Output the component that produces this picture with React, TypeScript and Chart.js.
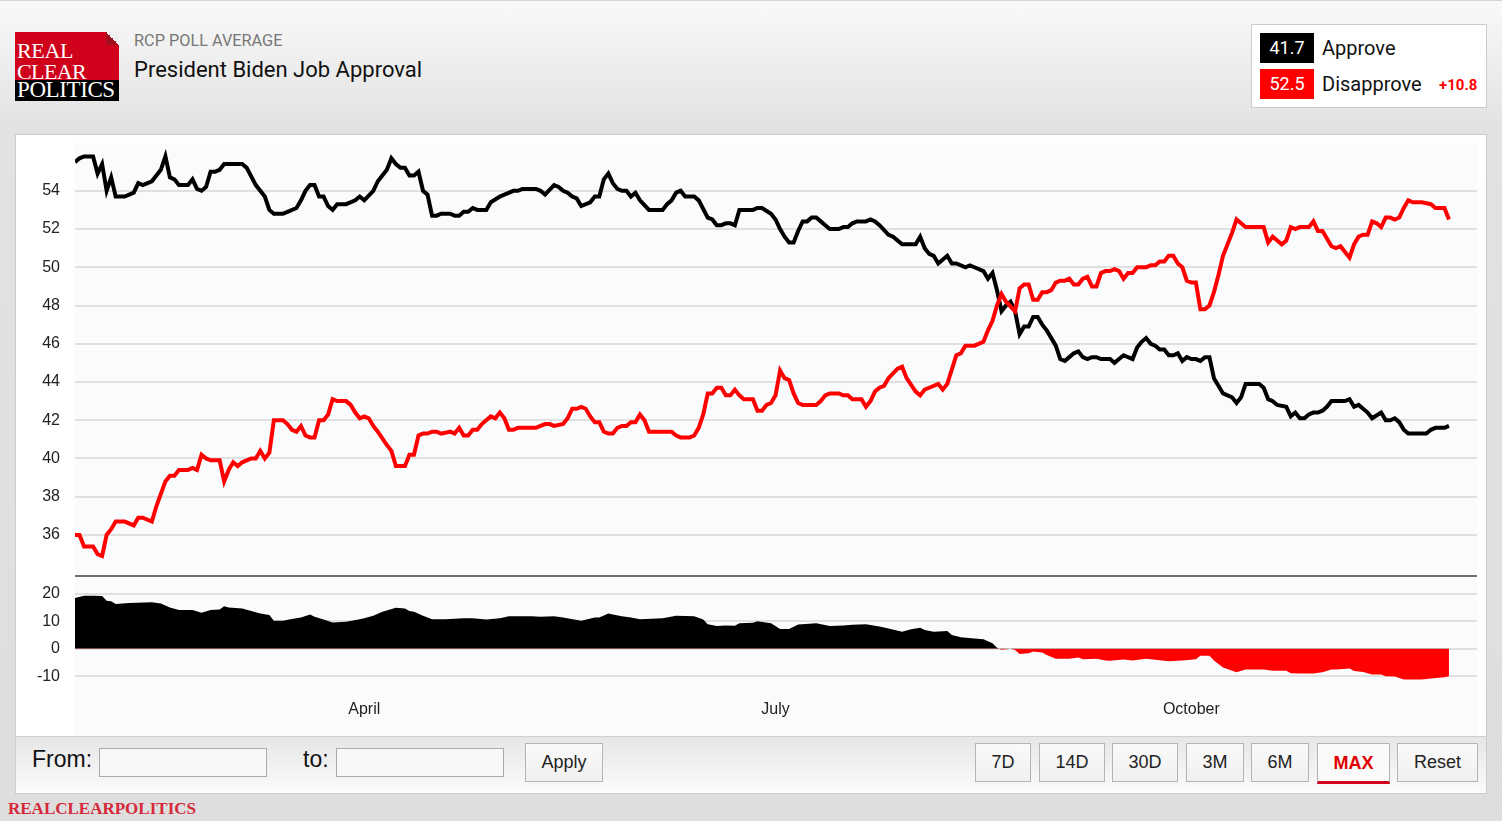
import { useEffect, useRef } from 'react';
import { Chart, registerables } from 'chart.js';

Chart.register(...registerables);

// [day of 2021 (Jan 1 = 0), value]
const APPROVE: [number, number][] = [
  [26, 55.5], [27, 55.7], [28, 55.8], [30, 55.8], [31, 54.9], [32, 55.4], [33, 54.0], [34, 54.7], [35, 53.7], [37, 53.7],
  [39, 53.9], [40, 54.4], [41, 54.3], [43, 54.5], [45, 55.1], [46, 55.8], [47, 54.7], [48, 54.6], [49, 54.3], [51, 54.3],
  [52, 54.6], [53, 54.1], [54, 54.0], [55, 54.2], [56, 55.0], [57, 55.0], [58, 55.1], [59, 55.4], [63, 55.4], [64, 55.2],
  [66, 54.3], [68, 53.7], [69, 53.0], [70, 52.8], [72, 52.8], [73, 52.9], [75, 53.1], [76, 53.5], [77, 54.0], [78, 54.3],
  [79, 54.3], [80, 53.7], [81, 53.7], [82, 53.2], [83, 53.0], [84, 53.3], [86, 53.3], [88, 53.5], [89, 53.7], [90, 53.5],
  [92, 54.0], [93, 54.5], [95, 55.1], [96, 55.7], [97, 55.4], [98, 55.2], [99, 55.2], [100, 54.8], [101, 54.8], [102, 55.0],
  [103, 54.0], [104, 53.8], [105, 52.7], [106, 52.7], [107, 52.8], [109, 52.8], [110, 52.7], [111, 52.7], [112, 52.9], [113, 52.9],
  [114, 53.1], [115, 53.0], [116, 53.0], [117, 53.0], [118, 53.4], [120, 53.7], [121, 53.8], [123, 54.0], [124, 54.0], [125, 54.1],
  [128, 54.1], [129, 54.0], [130, 53.8], [132, 54.3], [133, 54.2], [134, 54.0], [135, 53.9], [136, 53.7], [137, 53.6], [138, 53.2],
  [140, 53.4], [141, 53.7], [142, 53.7], [143, 54.6], [144, 54.9], [145, 54.4], [146, 54.1], [147, 54.0], [148, 54.0], [149, 53.7],
  [150, 53.9], [151, 53.5], [153, 53.0], [156, 53.0], [157, 53.3], [158, 53.5], [159, 53.9], [160, 54.0], [161, 53.7], [163, 53.7],
  [164, 53.5], [166, 52.6], [167, 52.5], [168, 52.2], [169, 52.2], [170, 52.3], [171, 52.3], [172, 52.2], [173, 53.0], [176, 53.0],
  [177, 53.1], [178, 53.1], [180, 52.8], [181, 52.5], [182, 52.0], [183, 51.6], [184, 51.3], [185, 51.3], [186, 51.9], [187, 52.4],
  [188, 52.4], [189, 52.6], [190, 52.6], [191, 52.4], [192, 52.2], [193, 52.0], [195, 52.0], [196, 52.1], [197, 52.1], [198, 52.3],
  [199, 52.4], [201, 52.4], [202, 52.5], [203, 52.4], [204, 52.2], [206, 51.7], [207, 51.6], [209, 51.2], [212, 51.2], [213, 51.6],
  [214, 51.0], [215, 50.7], [216, 50.6], [217, 50.2], [219, 50.6], [220, 50.2], [221, 50.2], [223, 50.0], [224, 50.1], [225, 50.0],
  [227, 49.8], [228, 49.4], [229, 49.7], [230, 48.8], [231, 47.7], [232, 48.0], [233, 48.2], [234, 47.7], [235, 46.5], [236, 46.9],
  [237, 46.9], [238, 47.4], [239, 47.4], [240, 47.0], [241, 46.7], [243, 45.9], [244, 45.2], [245, 45.1], [246, 45.3], [247, 45.5],
  [248, 45.6], [249, 45.3], [250, 45.2], [251, 45.3], [252, 45.3], [253, 45.2], [255, 45.2], [256, 45.0], [257, 45.2], [258, 45.4],
  [260, 45.2], [261, 45.8], [262, 46.1], [263, 46.3], [264, 46.0], [265, 45.9], [266, 45.7], [267, 45.7], [268, 45.4], [269, 45.4],
  [270, 45.5], [271, 45.1], [272, 45.3], [273, 45.2], [274, 45.2], [275, 45.1], [276, 45.3], [277, 45.3], [278, 44.2], [280, 43.4],
  [281, 43.3], [282, 43.2], [283, 42.9], [284, 43.2], [285, 43.9], [288, 43.9], [289, 43.7], [290, 43.1], [291, 43.0], [292, 42.8],
  [294, 42.7], [295, 42.2], [296, 42.4], [297, 42.1], [298, 42.1], [299, 42.3], [300, 42.4], [301, 42.4], [302, 42.5], [303, 42.7],
  [304, 43.0], [307, 43.0], [308, 43.1], [309, 42.7], [310, 42.8], [311, 42.6], [312, 42.4], [313, 42.1], [315, 42.4], [316, 42.0],
  [317, 42.0], [318, 42.1], [319, 41.9], [320, 41.5], [321, 41.3], [325, 41.3], [326, 41.5], [327, 41.6], [329, 41.6], [330, 41.7],
];

const DISAPPROVE: [number, number][] = [
  [26, 36.0], [27, 36.0], [28, 35.4], [30, 35.4], [31, 35.0], [32, 34.9], [33, 36.0], [34, 36.3], [35, 36.7], [37, 36.7],
  [39, 36.5], [40, 36.9], [41, 36.9], [43, 36.7], [44, 37.5], [46, 38.8], [47, 39.1], [48, 39.1], [49, 39.4], [51, 39.4],
  [52, 39.5], [53, 39.4], [54, 40.2], [55, 40.0], [56, 39.9], [58, 39.9], [59, 38.8], [60, 39.4], [61, 39.8], [62, 39.6],
  [63, 39.8], [65, 40.0], [66, 40.0], [67, 40.4], [68, 40.0], [69, 40.3], [70, 42.0], [72, 42.0], [73, 41.8], [74, 41.5],
  [75, 41.4], [76, 41.7], [77, 41.2], [78, 41.1], [79, 41.1], [80, 42.0], [81, 42.0], [82, 42.3], [83, 43.1], [84, 43.0],
  [86, 43.0], [87, 42.8], [88, 42.4], [89, 42.1], [90, 42.2], [91, 42.1], [92, 41.7], [93, 41.4], [95, 40.7], [96, 40.4],
  [97, 39.6], [99, 39.6], [100, 40.2], [101, 40.2], [102, 41.2], [103, 41.3], [104, 41.3], [105, 41.4], [106, 41.4], [107, 41.3],
  [109, 41.4], [110, 41.3], [111, 41.6], [112, 41.2], [113, 41.2], [114, 41.5], [115, 41.5], [116, 41.8], [118, 42.2], [119, 42.1],
  [120, 42.4], [121, 42.1], [122, 41.5], [123, 41.5], [124, 41.6], [128, 41.6], [129, 41.7], [130, 41.8], [131, 41.8], [132, 41.7],
  [134, 41.8], [135, 42.1], [136, 42.6], [137, 42.6], [138, 42.7], [139, 42.6], [140, 42.2], [141, 41.9], [142, 41.9], [143, 41.4],
  [144, 41.3], [145, 41.3], [146, 41.6], [147, 41.7], [148, 41.7], [149, 41.9], [150, 41.9], [151, 42.3], [152, 42.0], [153, 41.4],
  [158, 41.4], [159, 41.2], [160, 41.1], [162, 41.1], [163, 41.2], [164, 41.6], [165, 42.3], [166, 43.4], [167, 43.4], [168, 43.7],
  [169, 43.7], [170, 43.3], [171, 43.3], [172, 43.6], [173, 43.3], [174, 43.1], [176, 43.1], [177, 42.5], [178, 42.5], [179, 42.8],
  [180, 42.9], [181, 43.3], [182, 44.6], [183, 44.2], [184, 44.1], [185, 43.4], [186, 42.9], [187, 42.8], [190, 42.8], [191, 43.0],
  [192, 43.3], [193, 43.4], [195, 43.4], [196, 43.3], [197, 43.3], [198, 43.1], [200, 43.1], [201, 42.7], [202, 43.0], [203, 43.5],
  [204, 43.7], [205, 43.8], [206, 44.2], [208, 44.7], [209, 44.8], [210, 44.2], [212, 43.5], [213, 43.3], [214, 43.6], [215, 43.7],
  [217, 43.9], [218, 43.6], [219, 43.9], [221, 45.4], [222, 45.5], [223, 45.9], [225, 45.9], [227, 46.1], [228, 46.7], [229, 47.2],
  [230, 48.0], [231, 48.6], [232, 48.2], [234, 47.7], [235, 48.9], [236, 49.1], [237, 49.1], [238, 48.3], [239, 48.3], [240, 48.7],
  [241, 48.7], [242, 48.8], [243, 49.2], [244, 49.3], [245, 49.3], [246, 49.4], [247, 49.1], [248, 49.1], [249, 49.4], [250, 49.5],
  [251, 49.0], [252, 49.0], [253, 49.7], [254, 49.8], [255, 49.8], [256, 49.9], [257, 49.8], [258, 49.4], [259, 49.7], [260, 49.7],
  [261, 50.0], [263, 50.0], [264, 50.1], [265, 50.1], [266, 50.3], [267, 50.3], [268, 50.6], [269, 50.6], [270, 50.2], [271, 50.0],
  [272, 49.3], [273, 49.2], [274, 49.2], [275, 47.8], [276, 47.8], [277, 48.0], [278, 48.7], [279, 49.6], [280, 50.6], [282, 51.8],
  [283, 52.5], [284, 52.3], [285, 52.1], [289, 52.1], [290, 51.3], [291, 51.6], [292, 51.4], [293, 51.2], [294, 51.4], [295, 52.1],
  [296, 52.0], [297, 52.1], [299, 52.1], [300, 52.4], [301, 51.9], [302, 51.9], [303, 51.5], [304, 51.1], [305, 51.0], [306, 51.1],
  [307, 50.8], [308, 50.5], [309, 51.2], [310, 51.6], [311, 51.7], [312, 51.7], [313, 52.4], [314, 52.3], [315, 52.1], [316, 52.6],
  [317, 52.6], [318, 52.5], [319, 52.6], [320, 53.1], [321, 53.5], [322, 53.4], [324, 53.4], [326, 53.3], [327, 53.1], [329, 53.1],
  [330, 52.5],
];

// approve minus disapprove
const SPREAD: [number, number][] = [
  [26, 18.4], [28, 19.2], [30, 19.2], [32, 19.1], [33, 17.4], [34, 17.2], [35, 16.2], [38, 16.6], [43, 16.8], [45, 16.4],
  [47, 14.9], [49, 14.0], [52, 14.0], [54, 13.0], [56, 14.0], [58, 14.2], [59, 15.4], [60, 14.9], [63, 14.6], [65, 13.7],
  [67, 12.8], [69, 12.2], [70, 10.1], [72, 10.1], [74, 10.8], [76, 11.3], [78, 12.4], [79, 11.6], [81, 10.6], [83, 9.5],
  [86, 9.8], [89, 10.7], [90, 11.0], [92, 11.9], [94, 13.4], [97, 14.8], [99, 14.6], [100, 13.7], [101, 13.4], [103, 11.9],
  [105, 10.7], [108, 10.7], [112, 11.0], [114, 11.0], [117, 10.6], [120, 11.0], [122, 11.8], [127, 11.8], [129, 11.6], [132, 11.8],
  [134, 11.3], [138, 10.1], [141, 11.3], [142, 11.3], [144, 12.8], [145, 12.4], [147, 11.8], [149, 11.3], [151, 10.7], [156, 11.0],
  [159, 11.9], [163, 11.8], [165, 10.6], [166, 8.9], [168, 8.2], [170, 8.4], [172, 8.3], [173, 9.2], [176, 9.4], [177, 9.9],
  [180, 9.2], [182, 7.1], [184, 7.1], [186, 8.8], [190, 9.2], [193, 8.2], [196, 8.4], [198, 8.7], [201, 8.9], [204, 8.0],
  [206, 7.3], [209, 6.1], [211, 7.0], [213, 7.6], [214, 6.8], [216, 6.1], [219, 6.4], [220, 5.0], [222, 4.1], [225, 3.7],
  [227, 3.4], [229, 2.0], [230, 0.3], [231, -0.4], [233, 0.0], [234, -0.5], [235, -1.9], [237, -1.7], [238, -1.0], [240, -1.4],
  [241, -2.3], [243, -3.7], [246, -3.7], [248, -3.2], [249, -3.8], [252, -3.7], [254, -4.3], [255, -4.4], [258, -3.9], [260, -4.3],
  [263, -3.7], [265, -4.0], [268, -4.6], [271, -4.3], [274, -3.8], [275, -2.6], [277, -2.6], [278, -4.3], [280, -6.8], [283, -8.6],
  [285, -7.6], [289, -7.6], [291, -8.0], [294, -8.0], [295, -8.9], [297, -9.0], [300, -9.0], [302, -8.6], [304, -7.6], [305, -7.6],
  [308, -7.2], [309, -8.1], [311, -8.5], [313, -9.4], [315, -9.4], [316, -10.0], [318, -10.1], [320, -11.2], [324, -11.2], [326, -10.8],
  [329, -10.4], [330, -10.0],
];

const MONTH_DAYS = [90, 181, 273];
const MONTH_LABELS = ['April', 'July', 'October'];
const MAIN_TICKS = [36, 38, 40, 42, 44, 46, 48, 50, 52, 54];
const SPREAD_TICKS = [20, 10, 0, -10];

const LATEST_APPROVE = '41.7';
const LATEST_DISAPPROVE = '52.5';
const LATEST_SPREAD = '+10.8';

const RANGE_BUTTONS = [
  { label: '7D', left: 959, width: 56 },
  { label: '14D', left: 1023, width: 66 },
  { label: '30D', left: 1096, width: 66 },
  { label: '3M', left: 1170, width: 58 },
  { label: '6M', left: 1235, width: 58 },
  { label: 'MAX', left: 1301, width: 73 },
  { label: 'Reset', left: 1381, width: 81 },
];

const SANS = 'Arial, "Liberation Sans", sans-serif';
const ROBOTO = 'Roboto, "Noto Sans", sans-serif';
const SERIF = '"Liberation Serif", "Times New Roman", serif';

const plotDecor = {
  id: 'plotDecor',
  beforeDraw(chart: any) {
    const { ctx, chartArea } = chart;
    ctx.save();
    ctx.fillStyle = '#fafbfd';
    ctx.fillRect(chartArea.left, chartArea.top, chartArea.right - chartArea.left, chart.height - chartArea.top);
    ctx.restore();
  },
  beforeDatasetsDraw(chart: any) {
    const { ctx, chartArea } = chart;
    const y = chart.scales.y.bottom;
    ctx.save();
    ctx.strokeStyle = '#6e6e6e';
    ctx.lineWidth = 2;
    ctx.beginPath();
    ctx.moveTo(chartArea.left, y - 1);
    ctx.lineTo(chartArea.right, y - 1);
    ctx.stroke();
    ctx.restore();
  },
};

function ApprovalChart() {
  const canvasRef = useRef<HTMLCanvasElement>(null);

  useEffect(() => {
    if (!canvasRef.current) return;
    const toPoints = (rows: [number, number][]) => rows.map(([x, y]) => ({ x, y }));
    const axisFont = { family: SANS, size: 16 };
    const fixLeftAxis = (s: any) => {
      s.width = 59;
      s.paddingTop = 0;
      s.paddingBottom = 0;
    };

    const chart = new Chart(canvasRef.current, {
      type: 'line',
      data: {
        datasets: [
          {
            label: 'Spread',
            data: toPoints(SPREAD),
            yAxisID: 'ySpread',
            borderWidth: 0,
            borderColor: 'rgba(0,0,0,0)',
            backgroundColor: '#000',
            fill: { target: 'origin', above: '#000000', below: '#ff0000' },
            pointRadius: 0,
            tension: 0,
            order: 2,
          },
          {
            label: 'Approve',
            data: toPoints(APPROVE),
            yAxisID: 'y',
            borderColor: '#000000',
            borderWidth: 4,
            pointRadius: 0,
            tension: 0,
            fill: false,
            order: 1,
          },
          {
            label: 'Disapprove',
            data: toPoints(DISAPPROVE),
            yAxisID: 'y',
            borderColor: '#ff0000',
            borderWidth: 4,
            pointRadius: 0,
            tension: 0,
            fill: false,
            order: 0,
          },
        ],
      },
      options: {
        animation: false,
        responsive: true,
        maintainAspectRatio: false,
        layout: { padding: { top: 8, right: 9, bottom: 0, left: 0 } },
        plugins: {
          legend: { display: false },
          tooltip: { enabled: false },
        },
        scales: {
          x: {
            type: 'linear',
            min: 26,
            max: 336.2,
            grid: { display: false, drawTicks: false },
            border: { display: false },
            afterBuildTicks: (s: any) => {
              s.ticks = MONTH_DAYS.map((v) => ({ value: v }));
            },
            afterFit: (s: any) => {
              s.height = 46;
              s.paddingLeft = 0;
              s.paddingRight = 0;
            },
            ticks: {
              autoSkip: false,
              maxRotation: 0,
              padding: 10,
              color: '#222',
              font: axisFont,
              callback: (v: any) => MONTH_LABELS[MONTH_DAYS.indexOf(Number(v))] ?? '',
            },
          },
          y: {
            type: 'linear',
            position: 'left',
            stack: 'panels',
            stackWeight: 434,
            weight: 2,
            min: 33.8,
            max: 56.5,
            grid: { color: '#e0e0e0', lineWidth: 2, drawTicks: false },
            border: { display: false },
            afterBuildTicks: (s: any) => {
              s.ticks = MAIN_TICKS.map((v) => ({ value: v }));
            },
            afterFit: fixLeftAxis,
            ticks: { autoSkip: false, padding: 15, color: '#222', font: axisFont },
          },
          ySpread: {
            type: 'linear',
            axis: 'y',
            position: 'left',
            stack: 'panels',
            stackWeight: 113,
            weight: 1,
            min: -15,
            max: 26,
            grid: { color: '#e0e0e0', lineWidth: 2, drawTicks: false },
            border: { display: false },
            afterBuildTicks: (s: any) => {
              s.ticks = SPREAD_TICKS.map((v) => ({ value: v }));
            },
            afterFit: fixLeftAxis,
            ticks: { autoSkip: false, padding: 15, color: '#222', font: axisFont },
          },
        },
      } as any,
      plugins: [plotDecor],
    });

    return () => {
      chart.destroy();
    };
  }, []);

  return <canvas ref={canvasRef} />;
}

const buttonBase: any = {
  position: 'absolute',
  top: 6,
  height: 39,
  boxSizing: 'border-box',
  border: '1px solid #b4b4b4',
  background: 'linear-gradient(#fafafa, #f0f0f0)',
  fontFamily: SANS,
  fontSize: 18,
  color: '#222',
  display: 'flex',
  alignItems: 'center',
  justifyContent: 'center',
};

const inputBox: any = {
  position: 'absolute',
  top: 11,
  width: 168,
  height: 29,
  boxSizing: 'border-box',
  border: '1px solid #aaaaaa',
  background: '#f8f8f8',
};

export default function App() {
  return (
    <div
      style={{
        position: 'absolute',
        left: 0,
        top: 0,
        width: 1502,
        height: 821,
        overflow: 'hidden',
        borderTop: '1px solid #d4d4d4',
        boxSizing: 'border-box',
        background: 'linear-gradient(#f9f9f9 0px, #e2e2e2 128px, #dedede 821px)',
      }}
    >
      {/* logo */}
      <div style={{ position: 'absolute', left: 15, top: 31, width: 104, height: 69 }}>
        <div style={{ position: 'absolute', left: 0, top: 0, width: 104, height: 48, background: '#d0021b' }} />
        <div style={{ position: 'absolute', left: 0, top: 48, width: 104, height: 21, background: '#000' }} />
        <div
          style={{
            position: 'absolute',
            right: 0,
            top: 0,
            width: 13,
            height: 13,
            background: 'linear-gradient(to bottom left, #efefef 50%, #a0101c 50%)',
          }}
        />
        <div style={{ position: 'absolute', left: 2, top: 8, font: `22px/22px ${SERIF}`, color: '#fff', letterSpacing: -0.3 }}>REAL</div>
        <div style={{ position: 'absolute', left: 2, top: 29, font: `22px/22px ${SERIF}`, color: '#fff', letterSpacing: -0.6 }}>CLEAR</div>
        <div style={{ position: 'absolute', left: 2, top: 46, font: `23px/23px ${SERIF}`, color: '#fff', letterSpacing: -0.4 }}>POLITICS</div>
      </div>

      <div style={{ position: 'absolute', left: 134, top: 32, font: `16.3px/16px ${ROBOTO}`, color: '#777' }}>
        RCP POLL AVERAGE
      </div>
      <div style={{ position: 'absolute', left: 134, top: 58, font: `22px/22px ${ROBOTO}`, color: '#111' }}>
        President Biden Job Approval
      </div>

      {/* legend box */}
      <div
        style={{
          position: 'absolute',
          left: 1251,
          top: 23,
          width: 236,
          height: 84,
          boxSizing: 'border-box',
          border: '1px solid #cccccc',
          background: '#fff',
        }}
      >
        <div style={{ position: 'absolute', left: 8, top: 8, width: 54, height: 30, background: '#000', color: '#fff', font: `18px/30px ${ROBOTO}`, textAlign: 'center' }}>
          {LATEST_APPROVE}
        </div>
        <div style={{ position: 'absolute', left: 70, top: 8, font: `20px/30px ${ROBOTO}`, color: '#111' }}>Approve</div>
        <div style={{ position: 'absolute', left: 8, top: 44, width: 54, height: 30, background: '#ff0000', color: '#fff', font: `18px/30px ${ROBOTO}`, textAlign: 'center' }}>
          {LATEST_DISAPPROVE}
        </div>
        <div style={{ position: 'absolute', left: 70, top: 44, font: `20px/30px ${ROBOTO}`, color: '#111' }}>Disapprove</div>
        <div style={{ position: 'absolute', left: 187, top: 45, font: `bold 15px/30px ${ROBOTO}`, color: '#ff0000' }}>{LATEST_SPREAD}</div>
      </div>

      {/* chart box */}
      <div
        style={{
          position: 'absolute',
          left: 15,
          top: 133,
          width: 1472,
          height: 660,
          boxSizing: 'border-box',
          border: '1px solid #cccccc',
          background: '#fff',
        }}
      >
        <div style={{ position: 'absolute', left: 0, top: 0, width: 1470, height: 601 }}>
          <ApprovalChart />
        </div>
        <div
          style={{
            position: 'absolute',
            left: 0,
            top: 601,
            width: 1470,
            height: 57,
            boxSizing: 'border-box',
            borderTop: '1px solid #cfcfcf',
            background: 'linear-gradient(#e6e6e6, #fbfbfb)',
          }}
        >
          <div style={{ position: 'absolute', left: 16, top: 9, font: `23px/26px ${SANS}`, color: '#111' }}>From:</div>
          <div style={{ ...inputBox, left: 83 }} />
          <div style={{ position: 'absolute', left: 287, top: 9, font: `23px/26px ${SANS}`, color: '#111' }}>to:</div>
          <div style={{ ...inputBox, left: 320 }} />
          <div style={{ ...buttonBase, left: 509, width: 78 }}>Apply</div>
          {RANGE_BUTTONS.map((b) =>
            b.label === 'MAX' ? (
              <div
                key={b.label}
                style={{
                  ...buttonBase,
                  left: b.left,
                  width: b.width,
                  height: 41,
                  background: '#fafafa',
                  borderBottom: '3px solid #d0021b',
                  color: '#e00000',
                  fontWeight: 'bold',
                  paddingTop: 1,
                }}
              >
                {b.label}
              </div>
            ) : (
              <div key={b.label} style={{ ...buttonBase, left: b.left, width: b.width }}>
                {b.label}
              </div>
            ),
          )}
        </div>
      </div>

      <div
        style={{
          position: 'absolute',
          left: 8,
          top: 799,
          font: `bold 17px/17px ${SERIF}`,
          color: '#d6283b',
        }}
      >
        REALCLEARPOLITICS
      </div>
    </div>
  );
}
